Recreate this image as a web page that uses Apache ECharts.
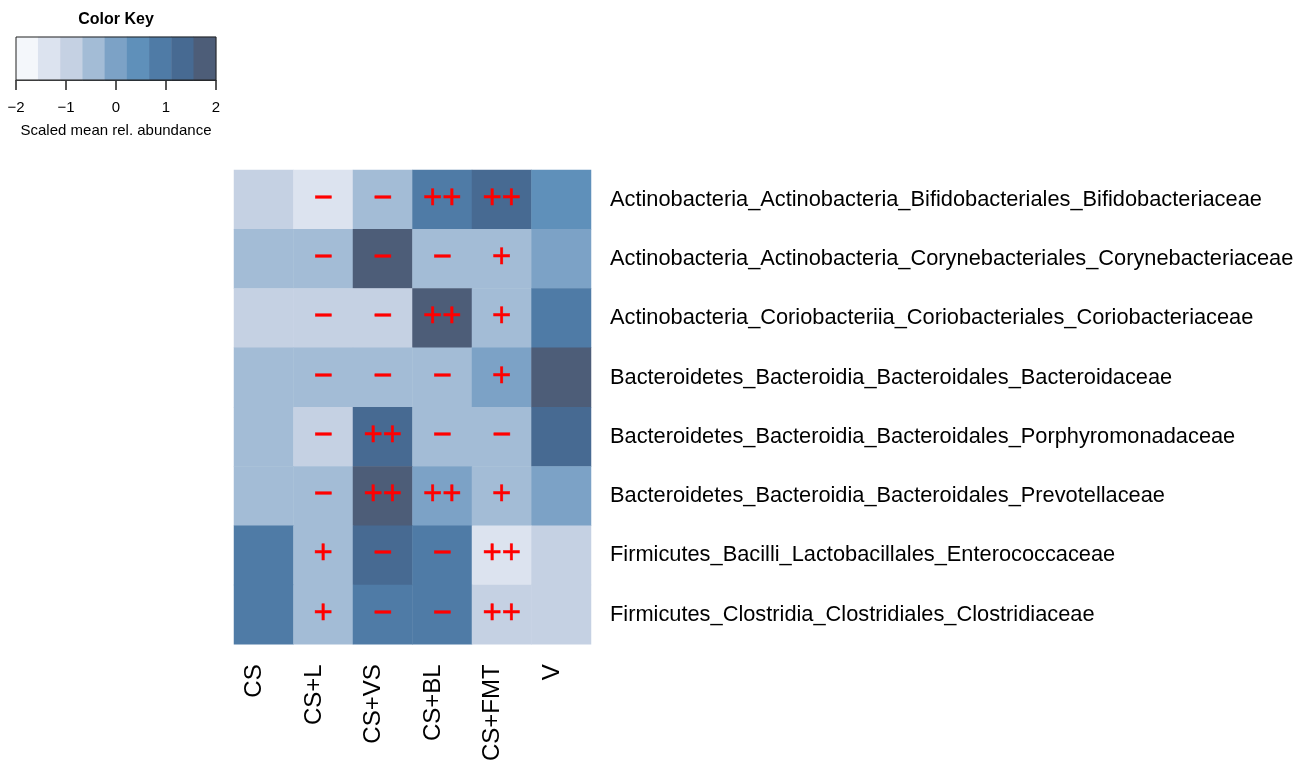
<!DOCTYPE html>
<html>
<head>
<meta charset="utf-8">
<script src="https://cdn.jsdelivr.net/npm/echarts@6/dist/echarts.min.js"></script>
<style>
html,body{margin:0;padding:0;background:#fff;}
#chart{width:1307px;height:764px;}
</style>
</head>
<body>
<div id="chart"></div>
<script>
var columns = ['CS', 'CS+L', 'CS+VS', 'CS+BL', 'CS+FMT', 'V'];
var rows = [
  'Actinobacteria_Actinobacteria_Bifidobacteriales_Bifidobacteriaceae',
  'Actinobacteria_Actinobacteria_Corynebacteriales_Corynebacteriaceae',
  'Actinobacteria_Coriobacteriia_Coriobacteriales_Coriobacteriaceae',
  'Bacteroidetes_Bacteroidia_Bacteroidales_Bacteroidaceae',
  'Bacteroidetes_Bacteroidia_Bacteroidales_Porphyromonadaceae',
  'Bacteroidetes_Bacteroidia_Bacteroidales_Prevotellaceae',
  'Firmicutes_Bacilli_Lactobacillales_Enterococcaceae',
  'Firmicutes_Clostridia_Clostridiales_Clostridiaceae'
];
// scaled mean relative abundance (estimated from colour bins)
var values = [
  [-0.89, -1.33, -0.44, 0.89, 1.33, 0.44],
  [-0.44, -0.44, 1.78, -0.44, -0.44, 0.00],
  [-0.89, -0.89, -0.89, 1.78, -0.44, 0.89],
  [-0.44, -0.44, -0.44, -0.44, 0.00, 1.78],
  [-0.44, -0.89, 1.33, -0.44, -0.44, 1.33],
  [-0.44, -0.44, 1.78, 0.00, -0.44, 0.00],
  [0.89, -0.44, 1.33, 0.89, -1.33, -0.89],
  [0.89, -0.44, 0.89, 0.89, -0.89, -0.89]
];
var notes = [
  ['', '\u2212', '\u2212', '++', '++', ''],
  ['', '\u2212', '\u2212', '\u2212', '+', ''],
  ['', '\u2212', '\u2212', '++', '+', ''],
  ['', '\u2212', '\u2212', '\u2212', '+', ''],
  ['', '\u2212', '++', '\u2212', '\u2212', ''],
  ['', '\u2212', '++', '++', '+', ''],
  ['', '+', '\u2212', '\u2212', '++', ''],
  ['', '+', '\u2212', '\u2212', '++', '']
];
var keyColors = ['#F4F7FB', '#DCE3EF', '#C5D1E3', '#A3BCD6', '#7CA2C6', '#5F90BA', '#4F7BA6', '#476A92', '#4D5D78'];
var keyMin = -2, keyMax = 2;
var keyTicks = [-2, -1, 0, 1, 2];

var nBins = keyColors.length;
var binW = (keyMax - keyMin) / nBins;
var pieces = keyColors.map(function (c, i) {
  var p = { gte: keyMin + i * binW, color: c };
  if (i < nBins - 1) p.lt = keyMin + (i + 1) * binW; else p.lte = keyMax;
  return p;
});
var keyBins = keyColors.map(function (c, i) { return 'b' + i; });
var keyData = keyColors.map(function (c, i) { return [i, 0, keyMin + (i + 0.5) * binW]; });

var mainData = [];
values.forEach(function (row, r) {
  row.forEach(function (v, c) { mainData.push([c, r, v]); });
});

var chart = echarts.init(document.getElementById('chart'), null, { renderer: 'canvas' });
var font = 'Liberation Sans, Arial, Helvetica, sans-serif';
chart.setOption({
  animation: false,
  backgroundColor: '#fff',
  textStyle: { fontFamily: font },
  grid: [
    { left: 234, top: 170, width: 357, height: 475, show: false },
    { left: 16, top: 37, width: 200, height: 43, show: true, borderColor: '#222', borderWidth: 1, backgroundColor: 'transparent', z: 5 }
  ],
  xAxis: [
    {
      type: 'category', gridIndex: 0, data: columns, position: 'bottom',
      axisLine: { show: false }, axisTick: { show: false }, splitLine: { show: false },
      axisLabel: { rotate: 90, fontSize: 24, color: '#000', margin: 20, fontFamily: font, verticalAlign: 'bottom', lineHeight: 18 }
    },
    {
      type: 'category', gridIndex: 1, data: keyBins, show: false
    },
    {
      type: 'value', gridIndex: 1, min: keyMin, max: keyMax, interval: 1, position: 'bottom',
      axisLine: { show: true, lineStyle: { color: '#222', width: 1 } },
      axisTick: { show: true, length: 10, lineStyle: { color: '#222', width: 1.5 } },
      splitLine: { show: false },
      axisLabel: {
        fontSize: 15, color: '#000', margin: 20, fontFamily: font,
        formatter: function (v) { return String(v).replace('-', '\u2212'); }
      }
    }
  ],
  yAxis: [
    {
      type: 'category', gridIndex: 0, data: rows, inverse: true, position: 'right',
      axisLine: { show: false }, axisTick: { show: false }, splitLine: { show: false },
      axisLabel: { fontSize: 21.8, color: '#000', margin: 19, fontFamily: font }
    },
    { type: 'category', gridIndex: 1, data: ['key'], show: false }
  ],
  visualMap: {
    type: 'piecewise', show: false, dimension: 2, seriesIndex: [0, 1], pieces: pieces
  },
  graphic: [
    { type: 'text', x: 116, y: 20, style: { text: 'Color Key', font: 'bold 16px ' + font, fill: '#000', textAlign: 'center', textVerticalAlign: 'middle' } },
    { type: 'text', x: 116, y: 131, style: { text: 'Scaled mean rel. abundance', font: '15px ' + font, fill: '#000', textAlign: 'center', textVerticalAlign: 'middle' } }
  ],
  series: [
    {
      type: 'heatmap', xAxisIndex: 0, yAxisIndex: 0, data: mainData,
      emphasis: { disabled: true },
      label: {
        show: true, color: '#FF0000', fontSize: 33, fontFamily: font,
        textBorderColor: '#FF0000', textBorderWidth: 0.5, offset: [0, -1],
        formatter: function (p) { return notes[p.value[1]][p.value[0]]; }
      }
    },
    {
      type: 'heatmap', xAxisIndex: 1, yAxisIndex: 1, data: keyData,
      emphasis: { disabled: true }, label: { show: false }
    }
  ]
});
</script>
</body>
</html>
